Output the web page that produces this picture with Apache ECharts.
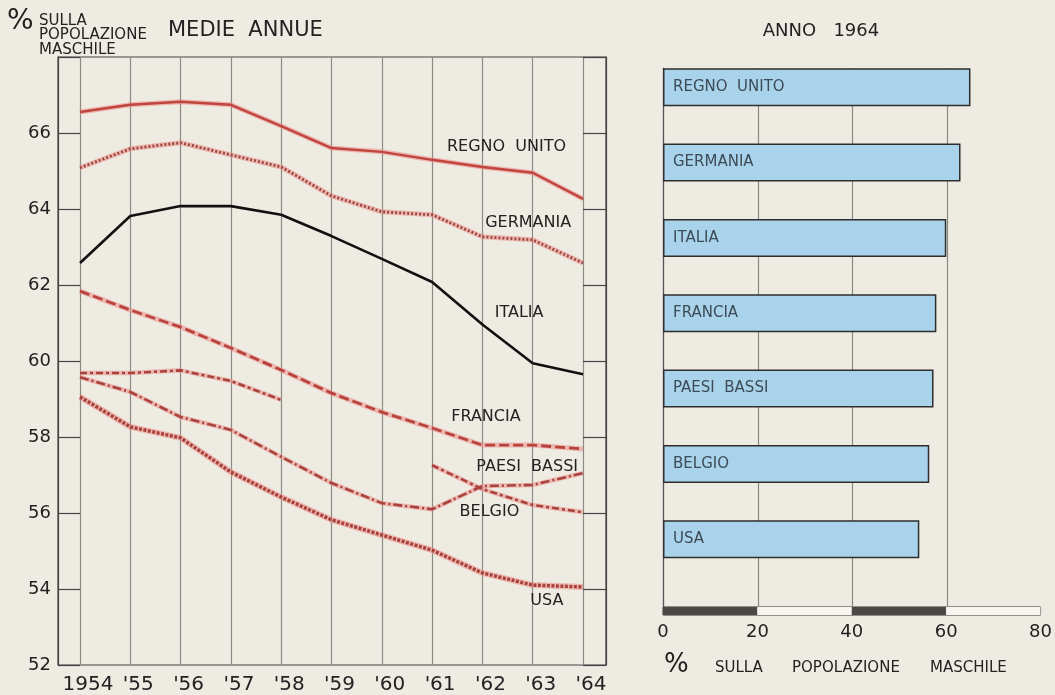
<!DOCTYPE html>
<html>
<head>
    <title>Medie annue</title>
    <meta charset="utf-8">
    <script src="https://cdn.jsdelivr.net/npm/echarts@6/dist/echarts.min.js"></script>
    <style>
        html, body { margin: 0; padding: 0; background: #eeebe3; }
        #chart { width: 1055px; height: 695px; }
    </style>
</head>
<body>
<div id="chart"></div>
<script>
    // values
    var years = [1954, 1955, 1956, 1957, 1958, 1959, 1960, 1961, 1962, 1963, 1964];
    var regnoUnito = [66.55, 66.74, 66.82, 66.74, 66.18, 65.6, 65.5, 65.29, 65.1, 64.95, 64.26];
    var germania = [65.08, 65.58, 65.74, 65.42, 65.1, 64.34, 63.92, 63.84, 63.26, 63.18, 62.57];
    var italia = [62.57, 63.81, 64.07, 64.07, 63.84, 63.28, 62.68, 62.07, 60.95, 59.93, 59.64];
    var francia = [61.83, 61.33, 60.88, 60.33, 59.75, 59.14, 58.64, 58.22, 57.77, 57.77, 57.67];
    var paesiBassi = [59.56, 59.17, 58.51, 58.17, 57.46, 56.77, 56.24, 56.08, 56.69, 56.72, 57.03];
    var belgio = [59.67, 59.67, 59.74, 59.46, 58.96, null, null, 57.24, 56.61, 56.19, 56.0];
    var usa = [59.04, 58.25, 57.96, 57.06, 56.4, 55.8, 55.4, 55.0, 54.4, 54.08, 54.03];

    var barCountries = ['REGNO  UNITO', 'GERMANIA', 'ITALIA', 'FRANCIA', 'PAESI  BASSI', 'BELGIO', 'USA'];
    var barValues = [64.9, 62.8, 59.8, 57.7, 57.1, 56.2, 54.1];

    // where the name of each line sits (data units)
    var labelX = [1962.48, 1962.91, 1962.73, 1962.07, 1962.89, 1962.14, 1963.28];
    var labelY = [65.64, 63.64, 61.25, 58.52, 57.21, 56.02, 53.66];

    var FONT = 'DejaVu Sans';
    var INK = '#222';
    var HALO = 'rgba(236,140,135,0.55)';

    function pairs(vals) {
        return years.map(function (y, i) { return [y, vals[i]]; });
    }

    // pink ink spread under the printed red lines
    function halo(vals, width) {
        return {
            type: 'line', xAxisIndex: 1, yAxisIndex: 2, data: pairs(vals),
            symbol: 'none', connectNulls: false, silent: true, z: 2,
            lineStyle: {color: HALO, width: width}
        };
    }

    function lineSeries(name, vals, color, width, dash, idx) {
        return {
            name: name,
            type: 'line',
            xAxisIndex: 1,
            yAxisIndex: 2,
            data: pairs(vals),
            symbol: 'none',
            connectNulls: false,
            z: name === 'ITALIA' ? 5 : 3,
            lineStyle: {color: color, width: width, type: dash},
            markPoint: {
                symbol: 'circle',
                symbolSize: 1,
                itemStyle: {color: 'rgba(0,0,0,0)'},
                label: {show: true, position: 'inside', formatter: name, fontFamily: FONT, fontSize: 16, color: INK},
                data: [{coord: [labelX[idx], labelY[idx]]}]
            }
        };
    }

    var chart = echarts.init(document.getElementById('chart'));

    var option = {
        animation: false,
        backgroundColor: '#eeebe3',
        textStyle: {fontFamily: FONT},
        grid: [
            {left: 58, right: 449, top: 57, bottom: 30, show: true, borderColor: '#444', borderWidth: 1.2, backgroundColor: 'rgba(0,0,0,0)'},
            {left: 80, right: 472, top: 57, bottom: 30},
            {left: 663, right: 13, top: 68, bottom: 88},
            {left: 663, right: 13, top: 49.5, bottom: 118},
            {left: 663, right: 13, top: 607, height: 8, show: true, borderColor: '#333', borderWidth: 1}
        ],
        xAxis: [
            {gridIndex: 0, type: 'value', min: 0, max: 1, show: false},
            {
                gridIndex: 1, type: 'value', min: 1954, max: 1964, interval: 1,
                axisLine: {show: false}, axisTick: {show: false},
                splitLine: {show: true, lineStyle: {color: '#8c8a85', width: 1.2}},
                axisLabel: {
                    showMinLabel: true, showMaxLabel: true, margin: 11, fontSize: 20, color: INK, fontFamily: FONT,
                    padding: [0, 0, 0, 16],
                    formatter: function (v) { return v === 1954 ? '1954' : "'" + String(v).slice(2); }
                }
            },
            {
                gridIndex: 2, type: 'value', min: 0, max: 80, interval: 20,
                axisLine: {show: false}, axisTick: {show: false}, axisLabel: {show: false},
                splitLine: {show: true, showMaxLine: false, lineStyle: {color: '#8a8883', width: 1.2}}
            },
            {gridIndex: 3, type: 'value', min: 0, max: 80, show: false},
            {
                gridIndex: 4, type: 'value', min: 0, max: 80, interval: 20,
                axisLine: {show: false}, axisTick: {show: false}, splitLine: {show: false},
                splitArea: {show: true, areaStyle: {color: ['#4b4846', '#f7f5ef']}},
                axisLabel: {showMinLabel: true, showMaxLabel: true, margin: 8, fontSize: 18, color: INK, fontFamily: FONT}
            }
        ],
        yAxis: [
            {
                gridIndex: 0, type: 'value', min: 52, max: 68, interval: 2, position: 'left',
                axisLine: {show: true, lineStyle: {color: '#444', width: 1.2}},
                axisTick: {show: true, inside: true, length: 22, lineStyle: {color: '#444', width: 1.2}},
                splitLine: {show: false},
                axisLabel: {
                    margin: 7, fontSize: 18, color: INK, fontFamily: FONT,
                    formatter: function (v) { return v === 68 ? '' : v; }
                }
            },
            {
                gridIndex: 0, type: 'value', min: 52, max: 68, interval: 2, position: 'right',
                axisLine: {show: true, lineStyle: {color: '#444', width: 1.2}},
                axisTick: {show: true, inside: true, length: 23, lineStyle: {color: '#444', width: 1.2}},
                splitLine: {show: false}, axisLabel: {show: false}
            },
            {gridIndex: 1, type: 'value', min: 52, max: 68, show: false},
            {
                gridIndex: 2, type: 'value', min: 0, max: 1,
                axisLine: {show: true, lineStyle: {color: '#555', width: 1.2}},
                axisTick: {show: false}, axisLabel: {show: false}, splitLine: {show: false}
            },
            {gridIndex: 3, type: 'category', data: barCountries, inverse: true, show: false},
            {gridIndex: 4, type: 'value', min: 0, max: 1, show: false}
        ],
        series: [
            halo(regnoUnito, 5),
            halo(germania, 5),
            halo(francia, 5),
            halo(paesiBassi, 4.5),
            halo(belgio, 4.5),
            halo(usa, 6),
            lineSeries('REGNO  UNITO', regnoUnito, '#bf453e', 2.4, 'solid', 0),
            lineSeries('GERMANIA', germania, '#9c4741', 2.8, [2, 2], 1),
            lineSeries('ITALIA', italia, '#111', 2.6, 'solid', 2),
            lineSeries('FRANCIA', francia, '#b8433d', 2.8, [10, 4], 3),
            lineSeries('PAESI  BASSI', paesiBassi, '#a8433e', 2.6, [9, 3, 2, 3], 4),
            lineSeries('BELGIO', belgio, '#a8433e', 2.6, [7, 3, 3, 3], 5),
            lineSeries('USA', usa, '#a8403b', 3.4, [3, 1.5], 6),
            {
                name: 'ANNO 1964',
                type: 'bar',
                xAxisIndex: 3,
                yAxisIndex: 4,
                data: barValues,
                barWidth: 38,
                z: 4,
                itemStyle: {color: '#a9d3ea', borderColor: '#2e2e2e', borderWidth: 1.5},
                label: {
                    show: true, position: 'insideLeft', distance: 10, formatter: '{b}',
                    fontFamily: FONT, fontSize: 15, color: '#3d4b57'
                }
            }
        ],
        graphic: [
            {type: 'text', x: 7, y: 22, style: {text: '%', font: '28px "DejaVu Sans"', fill: INK, align: 'left', verticalAlign: 'middle'}},
            {type: 'text', x: 39, y: 21, style: {text: 'SULLA', font: '15px "DejaVu Sans"', fill: INK, align: 'left', verticalAlign: 'middle'}},
            {type: 'text', x: 39, y: 35, style: {text: 'POPOLAZIONE', font: '15px "DejaVu Sans"', fill: INK, align: 'left', verticalAlign: 'middle'}},
            {type: 'text', x: 39, y: 50, style: {text: 'MASCHILE', font: '15px "DejaVu Sans"', fill: INK, align: 'left', verticalAlign: 'middle'}},
            {type: 'text', x: 168, y: 31, style: {text: 'MEDIE  ANNUE', font: '21px "DejaVu Sans"', fill: INK, align: 'left', verticalAlign: 'middle'}},
            {type: 'text', x: 821, y: 31, style: {text: 'ANNO   1964', font: '18px "DejaVu Sans"', fill: INK, align: 'center', verticalAlign: 'middle'}},
            {type: 'text', x: 664, y: 665, style: {text: '%', font: '26px "DejaVu Sans"', fill: INK, align: 'left', verticalAlign: 'middle'}},
            {type: 'text', x: 715, y: 668, style: {text: 'SULLA', font: '15px "DejaVu Sans"', fill: INK, align: 'left', verticalAlign: 'middle'}},
            {type: 'text', x: 792, y: 668, style: {text: 'POPOLAZIONE', font: '15px "DejaVu Sans"', fill: INK, align: 'left', verticalAlign: 'middle'}},
            {type: 'text', x: 930, y: 668, style: {text: 'MASCHILE', font: '15px "DejaVu Sans"', fill: INK, align: 'left', verticalAlign: 'middle'}}
        ]
    };

    chart.setOption(option);
</script>
</body>
</html>
